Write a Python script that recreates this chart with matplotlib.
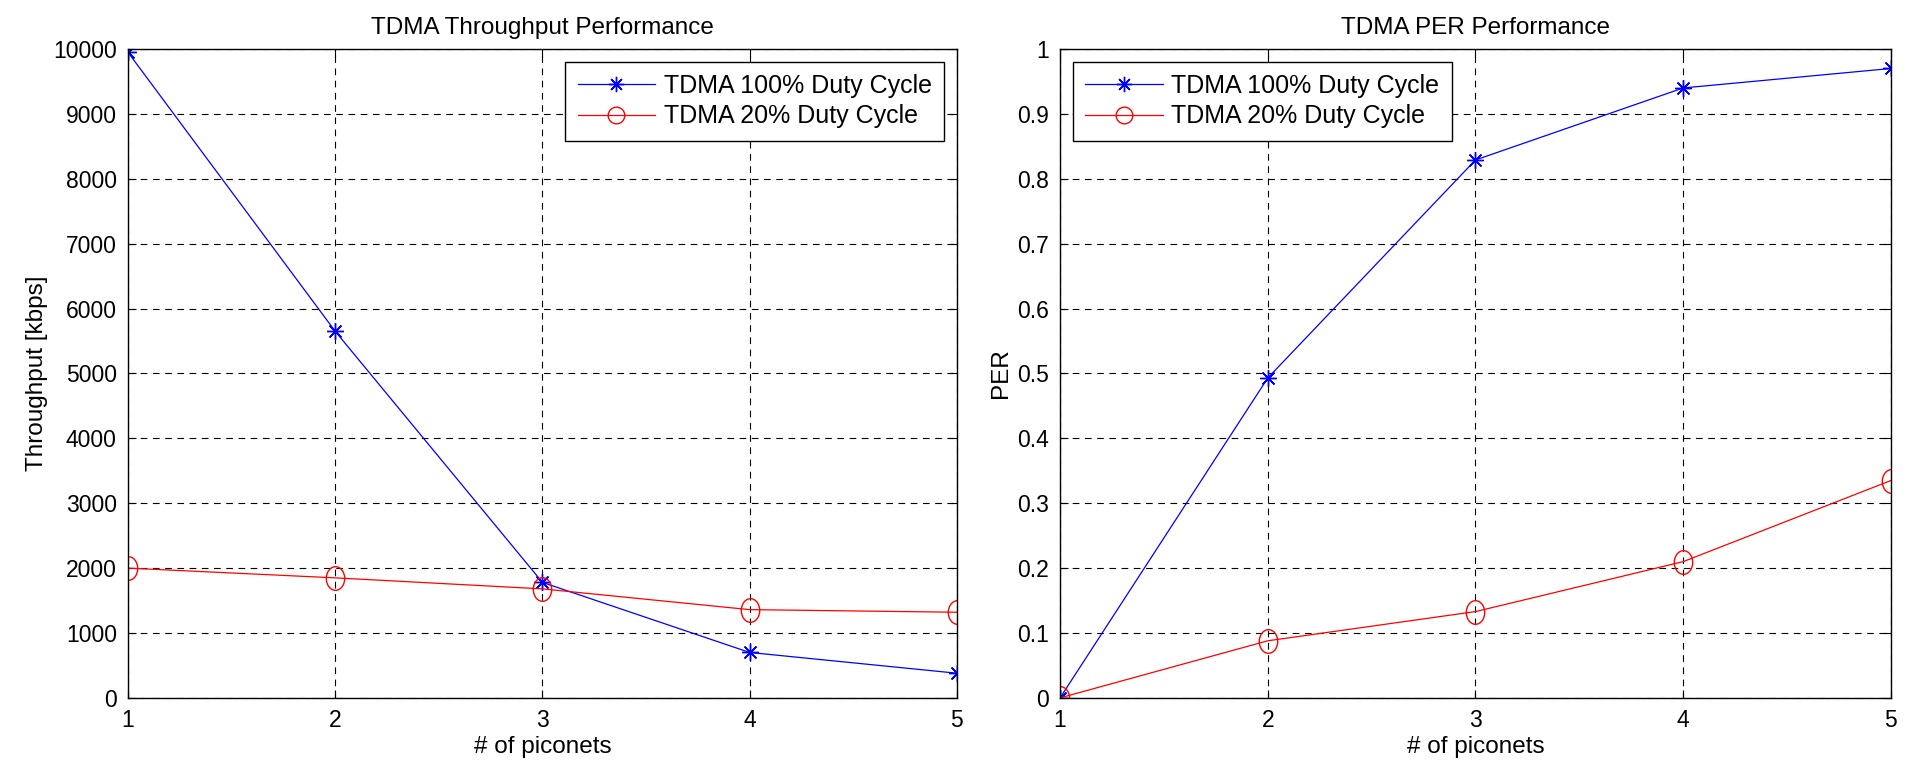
"""TDMA throughput / PER comparison, MATLAB-style two panel figure."""

import matplotlib

matplotlib.use("Agg")
import matplotlib.pyplot as plt  # noqa: E402
from matplotlib.lines import Line2D  # noqa: E402
from matplotlib.path import Path  # noqa: E402
from matplotlib.transforms import Affine2D  # noqa: E402

plt.rcParams["font.family"] = ["Liberation Sans", "DejaVu Sans"]

piconets = [1, 2, 3, 4, 5]
thr_full = [9950, 5650, 1780, 700, 380]
thr_20 = [2000, 1850, 1680, 1360, 1320]
per_full = [0.0, 0.493, 0.829, 0.940, 0.970]
per_20 = [0.0, 0.088, 0.133, 0.210, 0.335]

LBL_FULL = "TDMA 100% Duty Cycle"
LBL_20 = "TDMA 20% Duty Cycle"
TICK_FS = 16.5
LAB_FS = 17.5

# MATLAB export stretched the data markers: circles come out taller than wide
ELLIPSE = Path.unit_circle().transformed(Affine2D().scale(0.78, 1.0))
ASTERISK = (8, 2, 0)


def draw(ax, y_full, y_20):
    ax.plot(piconets, y_full, color="blue", marker=ASTERISK, markersize=12,
            linewidth=0.9, markeredgewidth=1.0)
    ax.plot(piconets, y_20, color="red", marker=ELLIPSE, markersize=17,
            linewidth=0.9, markerfacecolor="none", markeredgewidth=1.0)


def style(ax):
    ax.grid(True, color="black", linestyle=(0, (6, 5)), linewidth=0.8)
    ax.tick_params(direction="in", top=True, right=True, labelsize=TICK_FS,
                   length=6, pad=8)
    ax.set_xticks(piconets)
    ax.set_xlim(1, 5)
    for s in ax.spines.values():
        s.set_linewidth(1.0)


def legend(ax, loc):
    handles = [
        Line2D([], [], color="blue", marker=ASTERISK, markersize=11,
               linewidth=0.9, markeredgewidth=1.0),
        Line2D([], [], color="red", marker="o", markersize=12, linewidth=0.9,
               markerfacecolor="none", markeredgewidth=1.0),
    ]
    ax.legend(handles, [LBL_FULL, LBL_20], loc=loc, fontsize=18, fancybox=False,
              edgecolor="black", framealpha=1, borderaxespad=0.5,
              borderpad=0.5, labelspacing=0.25, handlelength=3.1,
              handletextpad=0.35)


fig = plt.figure(figsize=(19.1, 7.72), dpi=100)

ax1 = fig.add_axes([0.067, 0.096, 0.434, 0.8405])
draw(ax1, thr_full, thr_20)
ax1.set_ylim(0, 10000)
ax1.set_yticks(range(0, 10001, 1000))
style(ax1)
ax1.set_title("TDMA Throughput Performance", fontsize=LAB_FS, pad=11)
ax1.set_xlabel("# of piconets", fontsize=LAB_FS, labelpad=3)
ax1.set_ylabel("Throughput [kbps]", fontsize=LAB_FS, labelpad=4)
legend(ax1, "upper right")

ax2 = fig.add_axes([0.555, 0.096, 0.435, 0.8405])
draw(ax2, per_full, per_20)
ax2.set_ylim(0, 1)
ax2.set_yticks([i / 10 for i in range(11)])
ax2.set_yticklabels(["0"] + [f"{i / 10:g}" for i in range(1, 10)] + ["1"])
style(ax2)
ax2.set_title("TDMA PER Performance", fontsize=LAB_FS, pad=11)
ax2.set_xlabel("# of piconets", fontsize=LAB_FS, labelpad=3)
ax2.set_ylabel("PER", fontsize=LAB_FS, labelpad=4)
legend(ax2, "upper left")

fig.savefig("out.png", facecolor="white")
plt.close(fig)
